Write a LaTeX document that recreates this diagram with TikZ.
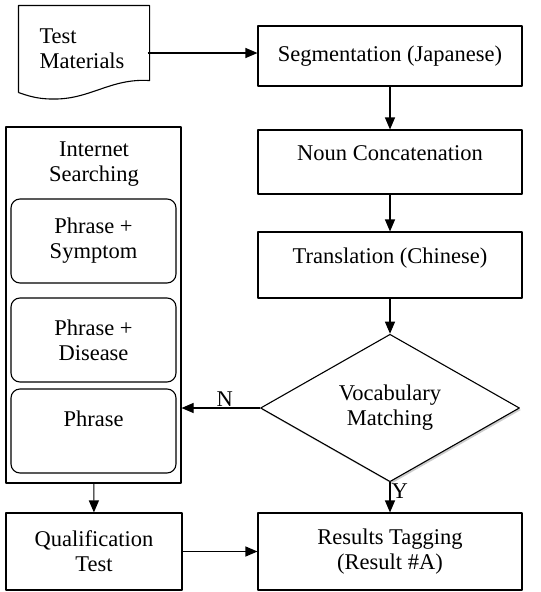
\documentclass[tikz,border=0pt]{standalone}
\usepackage{fontspec}
\setmainfont{Liberation Serif}
\usetikzlibrary{arrows.meta,shapes.geometric,shadows}
\tikzset{
  box/.style={draw, rectangle, line width=1.1pt, inner sep=0pt, align=center},
  rbox/.style={draw, rectangle, rounded corners=9pt, line width=1.1pt, inner sep=0pt, align=center,
    minimum width=165pt, minimum height=84pt},
  lbl/.style={inner sep=1pt}
}
\begin{document}
\begin{tikzpicture}[x=1pt, y=-1pt, line width=1.1pt, line join=round,
    font=\fontsize{22.5}{25}\selectfont, >={Triangle[length=12pt,width=10pt]}]
  \useasboundingbox (0,0) rectangle (541,592);
  % Eingang
  \node[inner sep=0pt, minimum width=130pt, minimum height=86pt, align=left] (mat) at (82,49) {Test\\Materials};
  \draw ([xshift=2pt]mat.south west) -- ([xshift=2pt]mat.north west) -- ([xshift=2pt]mat.north east) -- ([xshift=2pt,yshift=12pt]mat.south east)
    .. controls (110,78) and (90,100) .. (52,99) .. controls (36,99) and (26,95) .. ([xshift=2pt]mat.south west);
  % rechte Spalte
  \node[box, minimum width=264pt, minimum height=60pt] (seg) at (390,56) {Segmentation (Japanese)};
  \node[box, minimum width=264pt, minimum height=64pt, text depth=18pt] (noun) at (390,162) {Noun Concatenation};
  \node[box, minimum width=264pt, minimum height=66pt, text depth=18pt] (trans) at (390,265) {Translation (Chinese)};
  \node[draw, diamond, fill=white, inner sep=0pt, minimum width=259pt, minimum height=139pt, align=center,
    drop shadow={shadow xshift=1.5pt, shadow yshift=-2pt, fill=black!40}] (voc) at (390,408) {Vocabulary\\Matching};
  \node[box, minimum width=264pt, minimum height=77pt] (res) at (390,551.5) {Results Tagging\\(Result \#A)};
  % linke Spalte
  \node[box, minimum width=175pt, minimum height=356pt] (web) at (93.5,305) {};
  \node[align=center, inner sep=0pt] (webT) at (94,164) {Internet\\Searching};
  \node[rbox] (ps) at (93.5,241) {Phrase +\\Symptom};
  \node[rbox] (pd) at (93.5,340) {Phrase +\\Disease};
  \node[rbox] (ph) at (93.5,431) {Phrase\\~};
  \node[box, minimum width=176pt, minimum height=77pt] (qual) at (94,551.5) {Qualification\\Test};
  % Pfeile
  \draw[->] ([yshift=-4pt]mat.east) -- ([yshift=-4pt]mat.east -| seg.west);
  \draw[->] (seg) -- (noun);
  \draw[->] (noun) -- (trans);
  \draw[->] (trans) -- (voc);
  \draw[->] (voc.west) -- (voc.west -| web.east) node[lbl, pos=0.45, above] {N};
  \draw[->] (voc) -- (res) node[lbl, pos=0.3, right] {Y};
  \draw[->] (web) -- (qual);
  \draw[->] (qual) -- (res);
\end{tikzpicture}
\end{document}
